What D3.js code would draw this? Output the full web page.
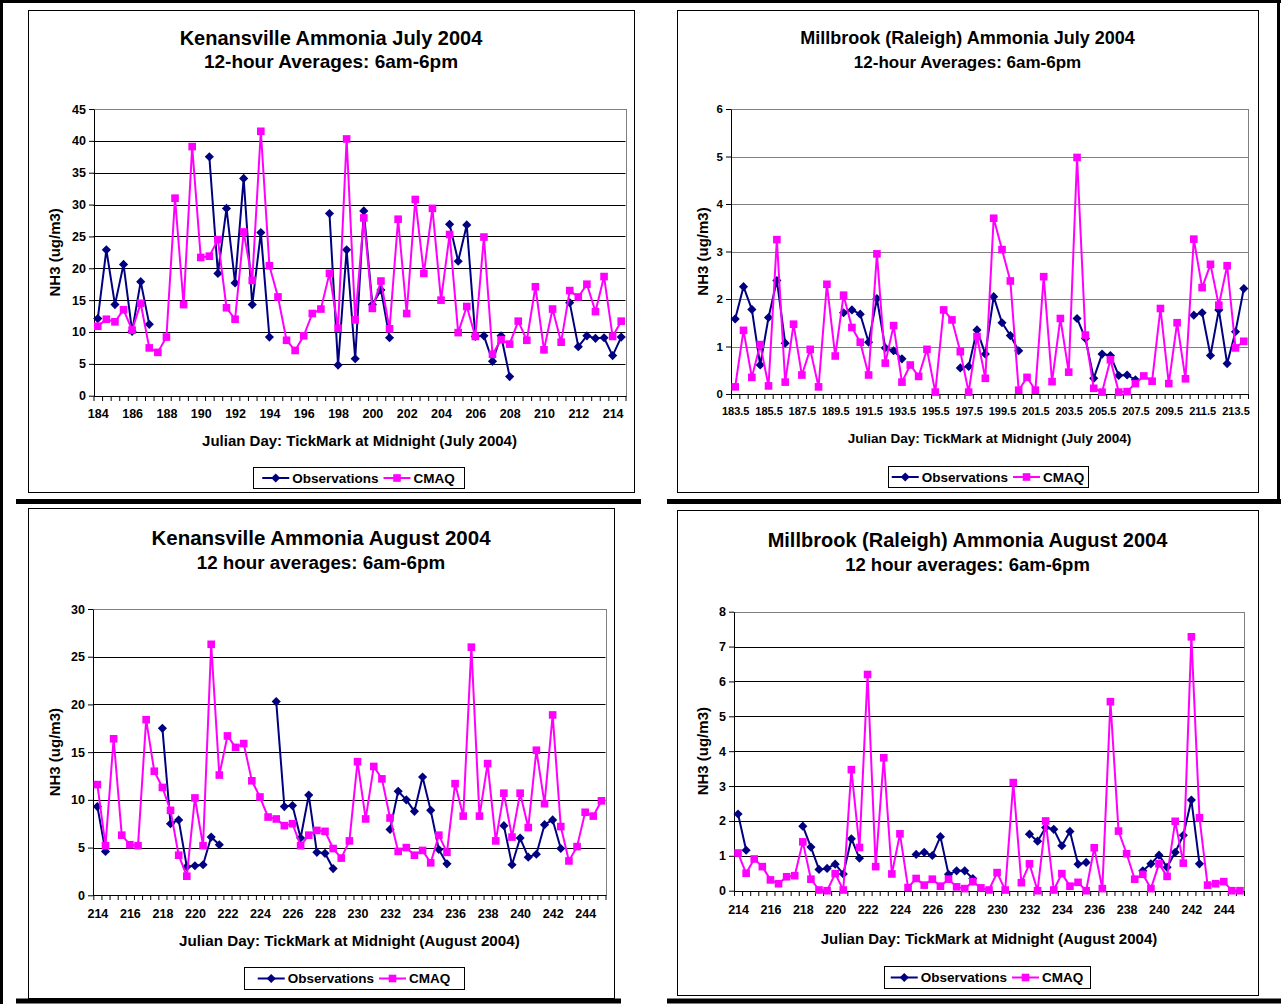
<!DOCTYPE html>
<html><head><meta charset="utf-8">
<script src="https://cdn.jsdelivr.net/npm/d3@7"></script>
<style>
body{margin:0;background:#fff}
svg{display:block}
</style>
</head><body>
<svg id="c" width="1281" height="1004"></svg>
<script>
// ---------- DATA ----------
const kenJulyStart = 184;
const kenJulyXTicks = [184,186,188,190,192,194,196,198,200,202,204,206,208,210,212,214];
const kenJulyYTicks = [0,5,10,15,20,25,30,35,40,45];
const kenJulyObs = [12.1,22.9,14.3,20.6,10.1,17.9,11.2,null,null,null,null,null,null,
  37.5,19.2,29.4,17.7,34.1,14.3,25.6,9.2,null,null,null,null,null,null,
  28.6,4.8,22.9,5.8,29.0,14.3,16.6,9.1,null,null,null,null,null,null,
  26.9,21.1,26.8,9.3,9.4,5.4,9.4,3.0,null,null,null,null,null,null,
  14.6,7.7,9.4,9.0,9.1,6.3,9.2];
const kenJulyCmaq = [10.9,12.0,11.6,13.5,10.3,14.5,7.5,6.8,9.2,31.0,
  14.3,39.1,21.7,21.9,24.5,13.8,12.0,25.7,18.1,41.5,
  20.4,15.5,8.7,7.1,9.4,12.9,13.6,19.2,10.6,40.3,
  11.9,27.9,13.7,18.0,10.5,27.7,12.9,30.8,19.2,29.4,
  15.0,25.3,9.9,14.0,9.3,24.9,6.5,8.8,8.1,11.7,
  8.7,17.1,7.2,13.6,8.4,16.5,15.5,17.5,13.2,18.7,
  9.3,11.7];

const millJulyStart = 183.5;
const millJulyXTicks = [183.5,185.5,187.5,189.5,191.5,193.5,195.5,197.5,199.5,201.5,203.5,205.5,207.5,209.5,211.5,213.5];
const millJulyYTicks = [0,1,2,3,4,5,6];
const millJulyObs = [1.58,2.26,1.78,0.61,1.61,2.39,1.07,null,null,null,null,null,null,
  1.71,1.77,1.68,1.09,2.01,0.97,0.91,0.74,null,null,null,null,null,null,
  0.55,0.58,1.35,0.84,2.05,1.50,1.23,0.91,null,null,null,null,null,null,
  1.59,1.17,0.33,0.84,0.81,0.39,0.40,0.30,null,null,null,null,null,null,
  1.66,1.71,0.81,1.77,0.64,1.31,2.22];
const millJulyCmaq = [0.15,1.34,0.35,1.04,0.17,3.25,0.25,1.47,0.40,0.94,
  0.15,2.31,0.80,2.08,1.40,1.09,0.40,2.95,0.65,1.44,
  0.25,0.61,0.37,0.94,0.04,1.77,1.56,0.89,0.04,1.21,
  0.33,3.70,3.04,2.38,0.08,0.35,0.08,2.47,0.26,1.59,
  0.46,4.98,1.24,0.12,0.04,0.72,0.04,0.05,0.22,0.38,
  0.27,1.80,0.22,1.50,0.32,3.26,2.24,2.73,1.87,2.70,
  0.97,1.11];

const kenAugStart = 214;
const augXTicks = [214,216,218,220,222,224,226,228,230,232,234,236,238,240,242,244];
const kenAugYTicks = [0,5,10,15,20,25,30];
const kenAugObs = [9.3,4.6,null,null,null,null,null,null,
  17.5,7.5,7.9,3.0,3.1,3.2,6.1,5.3,null,null,null,null,null,null,
  20.3,9.3,9.4,6.0,10.5,4.5,4.4,2.8,null,null,null,null,null,null,
  6.9,10.9,10.0,8.8,12.4,8.9,4.8,3.3,null,null,null,null,null,null,
  7.3,3.2,6.0,4.0,4.3,7.4,7.9,4.9,null,null,null,null,null];
const kenAugCmaq = [11.6,5.2,16.4,6.3,5.3,5.2,18.4,13.0,11.3,8.9,
  4.2,2.0,10.2,5.2,26.3,12.6,16.7,15.5,15.9,12.0,
  10.3,8.2,8.0,7.3,7.5,5.2,6.3,6.8,6.7,4.9,
  3.9,5.7,14.0,8.0,13.5,12.2,8.1,4.6,5.0,4.2,
  4.7,3.4,6.3,4.5,11.7,8.3,26.0,8.3,13.8,5.7,
  10.7,6.1,10.7,7.1,15.2,9.6,18.9,7.2,3.6,5.1,
  8.7,8.3,9.9];

const millAugStart = 214;
const millAugYTicks = [0,1,2,3,4,5,6,7,8];
const millAugObs = [2.20,1.16,null,null,null,null,null,null,
  1.85,1.25,0.61,0.64,0.76,0.48,1.49,0.93,null,null,null,null,null,null,
  1.04,1.10,1.01,1.55,0.47,0.57,0.57,0.35,null,null,null,null,null,null,
  1.62,1.42,1.81,1.76,1.29,1.70,0.76,0.81,null,null,null,null,null,null,
  0.57,0.77,1.02,0.67,1.10,1.59,2.60,0.77,null,null,null,null,null];
const millAugCmaq = [1.08,0.50,0.91,0.69,0.31,0.20,0.40,0.43,1.40,0.33,
  0.02,0.0,0.49,0.02,3.47,1.24,6.20,0.69,3.81,0.48,
  1.63,0.09,0.35,0.16,0.33,0.13,0.33,0.11,0.06,0.26,
  0.08,0.02,0.52,0.02,3.10,0.23,0.77,0.0,2.0,0.02,
  0.49,0.13,0.24,0.0,1.23,0.06,5.42,1.71,1.06,0.33,
  0.47,0.06,0.77,0.41,1.99,0.79,7.28,2.09,0.16,0.20,
  0.26,0.0,0.0];

const seriesNames = ["Observations","CMAQ"];
const yTitle = "NH3 (ug/m3)";

// ---------- LAYOUT ----------
const FONT = "'Liberation Sans', Arial, Helvetica, sans-serif";
const NAVY = "#000080", MAG = "#FF00FF";

const panels = [
  {title:"Kenansville Ammonia July 2004", sub:"12-hour Averages: 6am-6pm",
   xTitle:"Julian Day: TickMark at Midnight (July 2004)",
   start:kenJulyStart, obs:kenJulyObs, cmaq:kenJulyCmaq, xTicks:kenJulyXTicks, yTicks:kenJulyYTicks,
   box:[28,10,634,492], plot:[93.5,109,625.5,395.7], titleY:45, subY:68, tfs:20, sfs:19,
   xPad:13.5, xfs:12.5, yfs:12.5, xtfs:15, grid:"#000",
   xTitleY:446, yTitleX:55, legend:[253,467,464,488]},
  {title:"Millbrook (Raleigh) Ammonia July 2004", sub:"12-hour Averages: 6am-6pm",
   xTitle:"Julian Day: TickMark at Midnight (July 2004)",
   start:millJulyStart, obs:millJulyObs, cmaq:millJulyCmaq, xTicks:millJulyXTicks, yTicks:millJulyYTicks,
   box:[677,10,1258,492], plot:[731,109,1248,394], titleY:44, subY:68, tfs:18, sfs:17,
   xPad:13.5, xfs:11, yfs:11.5, xtfs:13.5, grid:"#808080",
   xTitleY:443, yTitleX:703, legend:[888,466,1088,487]},
  {title:"Kenansville Ammonia August 2004", sub:"12 hour averages: 6am-6pm",
   xTitle:"Julian Day: TickMark at Midnight (August 2004)",
   start:kenAugStart, obs:kenAugObs, cmaq:kenAugCmaq, xTicks:augXTicks, yTicks:kenAugYTicks,
   box:[28,508,614,998], plot:[93.3,609,605.5,895.3], titleY:545, subY:569, tfs:20.5, sfs:18.8,
   xPad:14.5, xfs:12.5, yfs:12.5, xtfs:15.2, grid:"#000",
   xTitleY:946, yTitleX:55, legend:[244,967,464,989]},
  {title:"Millbrook (Raleigh) Ammonia August 2004", sub:"12 hour averages: 6am-6pm",
   xTitle:"Julian Day: TickMark at Midnight (August 2004)",
   start:millAugStart, obs:millAugObs, cmaq:millAugCmaq, xTicks:augXTicks, yTicks:millAugYTicks,
   box:[677,510,1258,995], plot:[734,611.7,1244,890.7], titleY:547, subY:571, tfs:20, sfs:18.5,
   xPad:14.5, xfs:12.5, yfs:12.5, xtfs:15, grid:"#000",
   xTitleY:944, yTitleX:703, legend:[884,966,1090,988]}
];

const svg = d3.select("#c");
svg.append("rect").attr("width",1281).attr("height",1004).attr("fill","#fff");

// page frame lines
const fr = svg.append("g").attr("stroke","#000");
fr.append("line").attr("x1",0).attr("x2",1281).attr("y1",1.5).attr("y2",1.5).attr("stroke-width",3);
fr.append("line").attr("x1",1.5).attr("x2",1.5).attr("y1",0).attr("y2",1004).attr("stroke-width",3);
fr.append("line").attr("x1",1278.5).attr("x2",1278.5).attr("y1",0).attr("y2",503).attr("stroke-width",3);
fr.append("line").attr("x1",16).attr("x2",641).attr("y1",501.5).attr("y2",501.5).attr("stroke-width",5);
fr.append("line").attr("x1",667).attr("x2",1281).attr("y1",501.5).attr("y2",501.5).attr("stroke-width",5);
fr.append("line").attr("x1",16).attr("x2",621).attr("y1",1001).attr("y2",1001).attr("stroke-width",5);
fr.append("line").attr("x1",667).attr("x2",1281).attr("y1",1001).attr("y2",1001).attr("stroke-width",5);

const diamond = d3.symbol(d3.symbolSquare, 42);
const square = d3.symbol(d3.symbolSquare, 58);

function styleText(sel, fs){
  sel.attr("font-family",FONT).attr("font-weight","bold").attr("font-size",fs).attr("fill","#000");
}

function drawPanel(p){
  const g = svg.append("g");
  const [bx0,by0,bx1,by1] = p.box;
  g.append("rect").attr("x",bx0+0.5).attr("y",by0+0.5).attr("width",bx1-bx0).attr("height",by1-by0)
    .attr("fill","#fff").attr("stroke","#000").attr("stroke-width",1);

  const [px0,py0,px1,py1] = p.plot;
  const n = p.cmaq.length;
  const days = p.cmaq.map((_,i)=>p.start + i*0.5);
  const x = d3.scaleLinear().domain([p.start-0.25, p.start+(n-1)*0.5+0.25]).range([px0,px1]);
  const ymax = p.yTicks[p.yTicks.length-1];
  const y = d3.scaleLinear().domain([0,ymax]).range([py1,py0]);

  // gridlines
  g.append("g").selectAll("line").data(p.yTicks.filter(v=>v>0 && v<ymax)).join("line")
    .attr("x1",px0).attr("x2",px1)
    .attr("y1",d=>Math.round(y(d))+0.5).attr("y2",d=>Math.round(y(d))+0.5)
    .attr("stroke",p.grid).attr("stroke-width",1);
  // plot area border
  g.append("rect").attr("x",Math.round(px0)+0.5).attr("y",Math.round(py0)+0.5)
    .attr("width",Math.round(px1)-Math.round(px0)).attr("height",Math.round(py1)-Math.round(py0))
    .attr("fill","none").attr("stroke","#808080").attr("stroke-width",1);

  // y axis
  const ya = g.append("g").attr("transform",`translate(${Math.round(px0)},0)`)
    .call(d3.axisLeft(y).tickValues(p.yTicks).tickSize(5).tickSizeOuter(0).tickPadding(3).tickFormat(d=>String(d)));
  ya.select(".domain").attr("stroke","#000");
  ya.selectAll(".tick line").attr("stroke","#000");
  styleText(ya.selectAll("text"), p.yfs);

  // x axis tick marks (between categories)
  const bounds = d3.range(n+1).map(i=>p.start-0.25+i*0.5);
  const xa = g.append("g").attr("transform",`translate(0,${Math.round(py1)})`)
    .call(d3.axisBottom(x).tickValues(bounds).tickSize(5).tickSizeOuter(0).tickFormat(""));
  xa.select(".domain").attr("stroke","#000");
  xa.selectAll(".tick line").attr("stroke","#000");
  // x labels
  const xl = g.append("g").attr("transform",`translate(0,${Math.round(py1)})`)
    .call(d3.axisBottom(x).tickValues(p.xTicks).tickSize(0).tickPadding(p.xPad).tickFormat(d=>String(d)));
  xl.select(".domain").remove();
  styleText(xl.selectAll("text"), p.xfs);

  // titles
  const cx = (bx0+bx1)/2;
  styleText(g.append("text").attr("x",cx).attr("y",p.titleY).attr("text-anchor","middle").text(p.title), p.tfs);
  styleText(g.append("text").attr("x",cx).attr("y",p.subY).attr("text-anchor","middle").text(p.sub), p.sfs);
  const pcx = (px0+px1)/2;
  styleText(g.append("text").attr("x",pcx).attr("y",p.xTitleY).attr("text-anchor","middle").text(p.xTitle), p.xtfs);
  styleText(g.append("text").attr("transform",`translate(${p.yTitleX},${(py0+py1)/2}) rotate(-90)`)
    .attr("text-anchor","middle").attr("dy","0.35em").text(yTitle), 15);

  // series
  const line = d3.line().defined(d=>d[1]!=null).x(d=>x(d[0])).y(d=>y(d[1]));
  const obsPts = days.map((d,i)=>[d,p.obs[i]]);
  const cmaqPts = days.map((d,i)=>[d,p.cmaq[i]]);
  g.append("path").datum(obsPts).attr("d",line).attr("fill","none").attr("stroke",NAVY).attr("stroke-width",2).attr("stroke-linejoin","round");
  g.append("g").selectAll("path").data(obsPts.filter(d=>d[1]!=null)).join("path")
    .attr("d",diamond).attr("fill",NAVY)
    .attr("transform",d=>`translate(${x(d[0])},${y(d[1])}) rotate(45)`);
  g.append("path").datum(cmaqPts).attr("d",line).attr("fill","none").attr("stroke",MAG).attr("stroke-width",2).attr("stroke-linejoin","round");
  g.append("g").selectAll("path").data(cmaqPts).join("path")
    .attr("d",square).attr("fill",MAG)
    .attr("transform",d=>`translate(${x(d[0])},${y(d[1])})`);

  // legend
  const [lx0,ly0,lx1,ly1] = p.legend;
  g.append("rect").attr("x",lx0+0.5).attr("y",ly0+0.5).attr("width",lx1-lx0).attr("height",ly1-ly0)
    .attr("fill","#fff").attr("stroke","#000");
  const lg = g.append("g");
  const lyc = (ly0+ly1)/2 + 0.5;
  const t1 = lg.append("text").text(seriesNames[0]); styleText(t1,13.5);
  const t2 = lg.append("text").text(seriesNames[1]); styleText(t2,13.5);
  const w1 = t1.node().getComputedTextLength(), w2 = t2.node().getComputedTextLength();
  const sw = 27, gap = 3, gap2 = 5;
  const total = sw+gap+w1+gap2+sw+gap+w2;
  let lx = (lx0+lx1)/2 - total/2;
  lg.append("line").attr("x1",lx).attr("x2",lx+sw).attr("y1",lyc).attr("y2",lyc).attr("stroke",NAVY).attr("stroke-width",2);
  lg.append("path").attr("d",diamond).attr("fill",NAVY).attr("transform",`translate(${lx+sw/2},${lyc}) rotate(45)`);
  t1.attr("x",lx+sw+gap).attr("y",lyc).attr("dy","0.36em");
  lx += sw+gap+w1+gap2;
  lg.append("line").attr("x1",lx).attr("x2",lx+sw).attr("y1",lyc).attr("y2",lyc).attr("stroke",MAG).attr("stroke-width",2);
  lg.append("path").attr("d",square).attr("fill",MAG).attr("transform",`translate(${lx+sw/2},${lyc})`);
  t2.attr("x",lx+sw+gap).attr("y",lyc).attr("dy","0.36em");
}

panels.forEach(drawPanel);
</script>
</body></html>
